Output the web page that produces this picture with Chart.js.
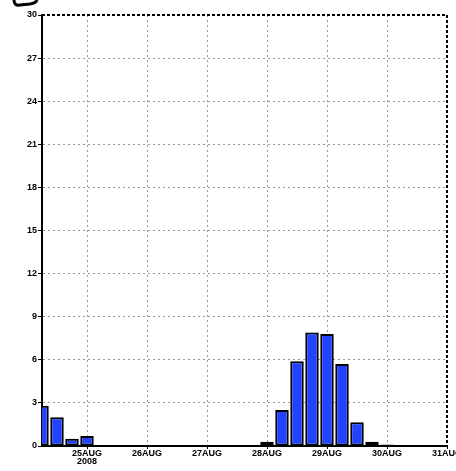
<!DOCTYPE html>
<html>
<head>
<meta charset="utf-8">
<script src="https://cdn.jsdelivr.net/npm/chart.js@4"></script>
<style>
  html, body { margin: 0; padding: 0; background: #fff; }
  #wrap { width: 456px; height: 471px; }
</style>
</head>
<body>
<div id="wrap"><canvas id="histChart"></canvas></div>
<script>
// hours relative to 25AUG 2008 00Z, one bar every 6 h
const hours = [-18, -12, -6, 0, 6, 12, 18, 24, 30, 36, 42, 48, 54, 60, 66,
               72, 78, 84, 90, 96, 102, 108, 114, 120, 126, 132, 138, 144];
const values = [2.8, 2.0, 0.5, 0.7, 0, 0, 0, 0, 0, 0, 0, 0, 0, 0, 0,
                0.3, 2.5, 5.9, 7.9, 7.8, 5.7, 1.65, 0.3, 0.1, 0, 0, 0, 0];
const dayTicks = [0, 24, 48, 72, 96, 120, 144];
const dayLabels = ['25AUG', '26AUG', '27AUG', '28AUG', '29AUG', '30AUG', '31AUG'];
const yearLabel = '2008';
const yTicks = [0, 3, 6, 9, 12, 15, 18, 21, 24, 27, 30];

const tickFont = { family: 'Liberation Sans, Arial, sans-serif', size: 9, weight: 'bold', lineHeight: 0.85 };

const framePlugin = {
    id: 'frame',
    afterDraw(chart) {
        const a = chart.chartArea;
        const c = chart.ctx;
        c.save();
        c.strokeStyle = '#000';
        c.lineWidth = 2;
        c.setLineDash([3, 2]);
        c.beginPath();
        c.moveTo(a.left, a.top);
        c.lineTo(a.right, a.top);
        c.lineTo(a.right, a.bottom);
        c.stroke();
        // piece of a logo cut off at the top
        c.setLineDash([]);
        c.lineWidth = 3;
        c.beginPath();
        c.moveTo(14, 0);
        c.quadraticCurveTo(14, 6, 20, 5);
        c.lineTo(30, 4);
        c.quadraticCurveTo(36, 3, 37, 0);
        c.stroke();
        c.restore();
    }
};

const ctx = document.getElementById('histChart');

new Chart(ctx, {
    type: 'bar',
    data: {
        datasets: [{
            data: hours.map((h, i) => ({ x: h, y: values[i] })),
            backgroundColor: '#2142ff',
            borderColor: '#000',
            borderWidth: 2,
            borderSkipped: false,
            barPercentage: 0.9,
            categoryPercentage: 1,
            clip: 0
        }]
    },
    options: {
        responsive: true,
        maintainAspectRatio: false,
        animation: false,
        layout: { padding: { left: 0, top: 15, right: 9, bottom: 0 } },
        plugins: {
            legend: { display: false },
            tooltip: { enabled: false }
        },
        scales: {
            x: {
                type: 'linear',
                offset: false,
                min: -18,
                max: 144,
                afterBuildTicks(scale) {
                    scale.ticks = dayTicks.map(v => ({ value: v }));
                },
                afterFit(scale) {
                    scale.height = 25;
                    scale.paddingLeft = 0;
                    scale.paddingRight = 0;
                },
                ticks: {
                    autoSkip: false,
                    maxRotation: 0,
                    padding: 1,
                    color: '#000',
                    font: tickFont,
                    callback: (v, i) => i === 0 ? [dayLabels[i], yearLabel] : dayLabels[i]
                },
                grid: {
                    offset: false,
                    color: '#999',
                    tickColor: '#000',
                    tickLength: 3,
                    tickBorderDash: []
                },
                border: { color: '#000', width: 2, dash: [2, 3] }
            },
            y: {
                min: 0,
                max: 30,
                afterBuildTicks(scale) {
                    scale.ticks = yTicks.map(v => ({ value: v }));
                },
                afterFit(scale) {
                    scale.width = 42;
                },
                ticks: {
                    padding: 1,
                    color: '#000',
                    font: tickFont
                },
                grid: {
                    color: '#999',
                    tickColor: '#000',
                    tickLength: 4,
                    tickBorderDash: []
                },
                border: { color: '#000', width: 2, dash: [2, 3] }
            }
        }
    },
    plugins: [framePlugin]
});
</script>
</body>
</html>
